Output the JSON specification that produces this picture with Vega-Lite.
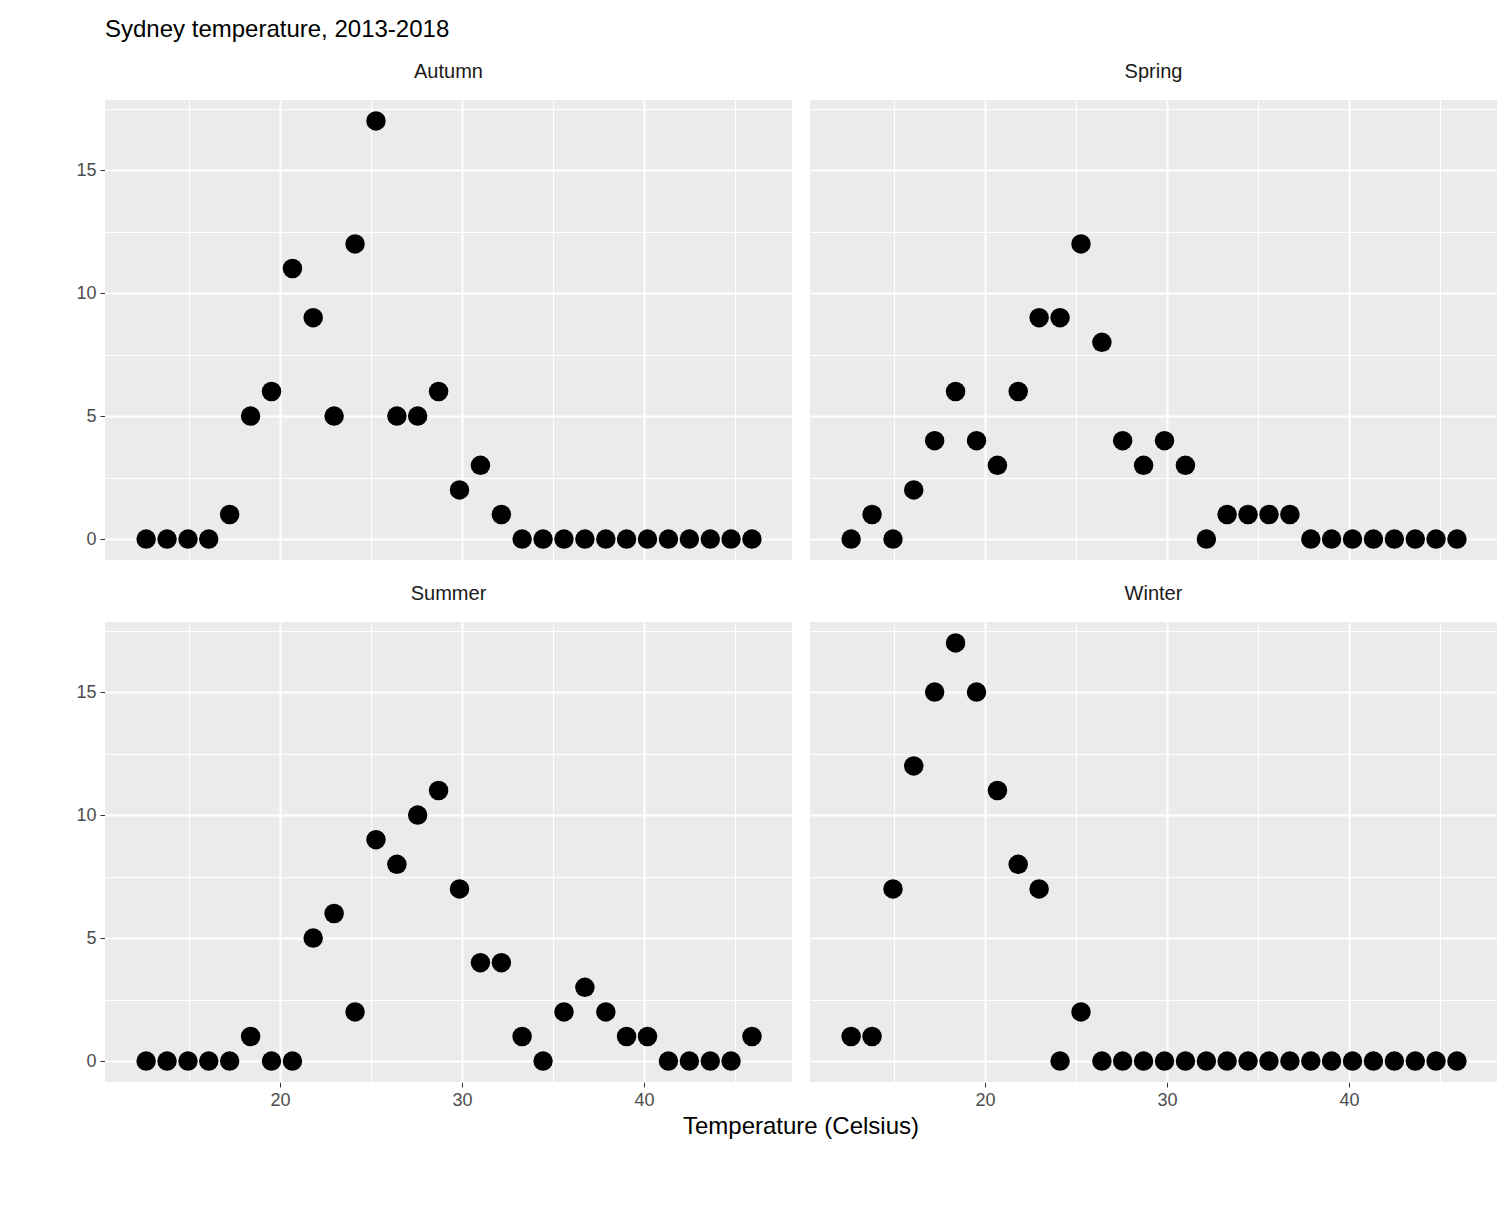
{
  "$schema": "https://vega.github.io/schema/vega-lite/v6.json",
  "title": {"text": "Sydney temperature, 2013-2018", "anchor": "start", "fontSize": 24, "fontWeight": "normal", "font": "Liberation Sans", "color": "#000", "offset": 20, "frame": "group"},
  "padding": {"left": 75, "top": 18, "right": 18, "bottom": 20},
  "background": "white",
  "data": {"values": [
    {"season": "Autumn", "i": 0, "n": 0}, {"season": "Autumn", "i": 1, "n": 0}, {"season": "Autumn", "i": 2, "n": 0}, {"season": "Autumn", "i": 3, "n": 0}, {"season": "Autumn", "i": 4, "n": 1}, {"season": "Autumn", "i": 5, "n": 5}, {"season": "Autumn", "i": 6, "n": 6}, {"season": "Autumn", "i": 7, "n": 11}, {"season": "Autumn", "i": 8, "n": 9}, {"season": "Autumn", "i": 9, "n": 5}, {"season": "Autumn", "i": 10, "n": 12}, {"season": "Autumn", "i": 11, "n": 17}, {"season": "Autumn", "i": 12, "n": 5}, {"season": "Autumn", "i": 13, "n": 5}, {"season": "Autumn", "i": 14, "n": 6}, {"season": "Autumn", "i": 15, "n": 2}, {"season": "Autumn", "i": 16, "n": 3}, {"season": "Autumn", "i": 17, "n": 1}, {"season": "Autumn", "i": 18, "n": 0}, {"season": "Autumn", "i": 19, "n": 0}, {"season": "Autumn", "i": 20, "n": 0}, {"season": "Autumn", "i": 21, "n": 0}, {"season": "Autumn", "i": 22, "n": 0}, {"season": "Autumn", "i": 23, "n": 0}, {"season": "Autumn", "i": 24, "n": 0}, {"season": "Autumn", "i": 25, "n": 0}, {"season": "Autumn", "i": 26, "n": 0}, {"season": "Autumn", "i": 27, "n": 0}, {"season": "Autumn", "i": 28, "n": 0}, {"season": "Autumn", "i": 29, "n": 0},
    {"season": "Spring", "i": 0, "n": 0}, {"season": "Spring", "i": 1, "n": 1}, {"season": "Spring", "i": 2, "n": 0}, {"season": "Spring", "i": 3, "n": 2}, {"season": "Spring", "i": 4, "n": 4}, {"season": "Spring", "i": 5, "n": 6}, {"season": "Spring", "i": 6, "n": 4}, {"season": "Spring", "i": 7, "n": 3}, {"season": "Spring", "i": 8, "n": 6}, {"season": "Spring", "i": 9, "n": 9}, {"season": "Spring", "i": 10, "n": 9}, {"season": "Spring", "i": 11, "n": 12}, {"season": "Spring", "i": 12, "n": 8}, {"season": "Spring", "i": 13, "n": 4}, {"season": "Spring", "i": 14, "n": 3}, {"season": "Spring", "i": 15, "n": 4}, {"season": "Spring", "i": 16, "n": 3}, {"season": "Spring", "i": 17, "n": 0}, {"season": "Spring", "i": 18, "n": 1}, {"season": "Spring", "i": 19, "n": 1}, {"season": "Spring", "i": 20, "n": 1}, {"season": "Spring", "i": 21, "n": 1}, {"season": "Spring", "i": 22, "n": 0}, {"season": "Spring", "i": 23, "n": 0}, {"season": "Spring", "i": 24, "n": 0}, {"season": "Spring", "i": 25, "n": 0}, {"season": "Spring", "i": 26, "n": 0}, {"season": "Spring", "i": 27, "n": 0}, {"season": "Spring", "i": 28, "n": 0}, {"season": "Spring", "i": 29, "n": 0},
    {"season": "Summer", "i": 0, "n": 0}, {"season": "Summer", "i": 1, "n": 0}, {"season": "Summer", "i": 2, "n": 0}, {"season": "Summer", "i": 3, "n": 0}, {"season": "Summer", "i": 4, "n": 0}, {"season": "Summer", "i": 5, "n": 1}, {"season": "Summer", "i": 6, "n": 0}, {"season": "Summer", "i": 7, "n": 0}, {"season": "Summer", "i": 8, "n": 5}, {"season": "Summer", "i": 9, "n": 6}, {"season": "Summer", "i": 10, "n": 2}, {"season": "Summer", "i": 11, "n": 9}, {"season": "Summer", "i": 12, "n": 8}, {"season": "Summer", "i": 13, "n": 10}, {"season": "Summer", "i": 14, "n": 11}, {"season": "Summer", "i": 15, "n": 7}, {"season": "Summer", "i": 16, "n": 4}, {"season": "Summer", "i": 17, "n": 4}, {"season": "Summer", "i": 18, "n": 1}, {"season": "Summer", "i": 19, "n": 0}, {"season": "Summer", "i": 20, "n": 2}, {"season": "Summer", "i": 21, "n": 3}, {"season": "Summer", "i": 22, "n": 2}, {"season": "Summer", "i": 23, "n": 1}, {"season": "Summer", "i": 24, "n": 1}, {"season": "Summer", "i": 25, "n": 0}, {"season": "Summer", "i": 26, "n": 0}, {"season": "Summer", "i": 27, "n": 0}, {"season": "Summer", "i": 28, "n": 0}, {"season": "Summer", "i": 29, "n": 1},
    {"season": "Winter", "i": 0, "n": 1}, {"season": "Winter", "i": 1, "n": 1}, {"season": "Winter", "i": 2, "n": 7}, {"season": "Winter", "i": 3, "n": 12}, {"season": "Winter", "i": 4, "n": 15}, {"season": "Winter", "i": 5, "n": 17}, {"season": "Winter", "i": 6, "n": 15}, {"season": "Winter", "i": 7, "n": 11}, {"season": "Winter", "i": 8, "n": 8}, {"season": "Winter", "i": 9, "n": 7}, {"season": "Winter", "i": 10, "n": 0}, {"season": "Winter", "i": 11, "n": 2}, {"season": "Winter", "i": 12, "n": 0}, {"season": "Winter", "i": 13, "n": 0}, {"season": "Winter", "i": 14, "n": 0}, {"season": "Winter", "i": 15, "n": 0}, {"season": "Winter", "i": 16, "n": 0}, {"season": "Winter", "i": 17, "n": 0}, {"season": "Winter", "i": 18, "n": 0}, {"season": "Winter", "i": 19, "n": 0}, {"season": "Winter", "i": 20, "n": 0}, {"season": "Winter", "i": 21, "n": 0}, {"season": "Winter", "i": 22, "n": 0}, {"season": "Winter", "i": 23, "n": 0}, {"season": "Winter", "i": 24, "n": 0}, {"season": "Winter", "i": 25, "n": 0}, {"season": "Winter", "i": 26, "n": 0}, {"season": "Winter", "i": 27, "n": 0}, {"season": "Winter", "i": 28, "n": 0}, {"season": "Winter", "i": 29, "n": 0}
  ]},
  "transform": [{"lookup": "i", "from": {"data": {"values": [
    {"i": 0, "t": 12.64}, {"i": 1, "t": 13.79}, {"i": 2, "t": 14.94}, {"i": 3, "t": 16.08}, {"i": 4, "t": 17.23}, {"i": 5, "t": 18.38}, {"i": 6, "t": 19.53}, {"i": 7, "t": 20.68}, {"i": 8, "t": 21.82}, {"i": 9, "t": 22.97}, {"i": 10, "t": 24.12}, {"i": 11, "t": 25.27}, {"i": 12, "t": 26.42}, {"i": 13, "t": 27.56}, {"i": 14, "t": 28.71}, {"i": 15, "t": 29.86}, {"i": 16, "t": 31.01}, {"i": 17, "t": 32.16}, {"i": 18, "t": 33.30}, {"i": 19, "t": 34.45}, {"i": 20, "t": 35.60}, {"i": 21, "t": 36.75}, {"i": 22, "t": 37.90}, {"i": 23, "t": 39.04}, {"i": 24, "t": 40.19}, {"i": 25, "t": 41.34}, {"i": 26, "t": 42.49}, {"i": 27, "t": 43.64}, {"i": 28, "t": 44.78}, {"i": 29, "t": 45.93}
  ]}, "key": "i", "fields": ["t"]}}],
  "facet": {"field": "season", "type": "nominal", "title": "Temperature (Celsius)",
    "header": {"titleOrient": "bottom", "titleFontSize": 24, "titleFont": "Liberation Sans", "titleFontWeight": "normal", "titleColor": "#000", "titlePadding": 6,
      "labelOrient": "top", "labelFontSize": 20, "labelColor": "#1a1a1a", "labelFont": "Liberation Sans", "labelPadding": 18}},
  "columns": 2,
  "spacing": {"column": 18, "row": 24},
  "spec": {
    "width": 687,
    "height": 460,
    "mark": {"type": "circle", "size": 380, "color": "#000", "opacity": 1},
    "encoding": {
      "x": {"field": "t", "type": "quantitative", "title": null,
        "scale": {"domain": [10.38, 48.13], "nice": false, "zero": false},
        "axis": {"values": [15, 20, 25, 30, 35, 40, 45], "labelExpr": "datum.value % 10 == 0 ? datum.label : ''",
          "tickColor": {"condition": {"test": "datum.value % 10 == 5", "value": "transparent"}, "value": "#333"},
          "gridWidth": {"condition": {"test": "datum.value % 10 == 5", "value": 1}, "value": 2}}},
      "y": {"field": "n", "type": "quantitative", "title": null,
        "scale": {"domain": [-0.85, 17.85], "nice": false, "zero": false},
        "axis": {"values": [0, 2.5, 5, 7.5, 10, 12.5, 15, 17.5], "labelExpr": "datum.value % 5 == 0 ? datum.label : ''",
          "tickColor": {"condition": {"test": "datum.value % 5 != 0", "value": "transparent"}, "value": "#333"},
          "gridWidth": {"condition": {"test": "datum.value % 5 != 0", "value": 1}, "value": 2}}}
    }
  },
  "config": {
    "view": {"fill": "#EBEBEB", "stroke": null},
    "header": {"labelFontSize": 20, "labelColor": "#1a1a1a", "labelFont": "Liberation Sans"},
    "axis": {"domain": false, "gridColor": "#FFFFFF", "tickSize": 5, "labelFontSize": 18, "labelColor": "#4d4d4d", "labelFont": "Liberation Sans", "labelPadding": 4}
  }
}
